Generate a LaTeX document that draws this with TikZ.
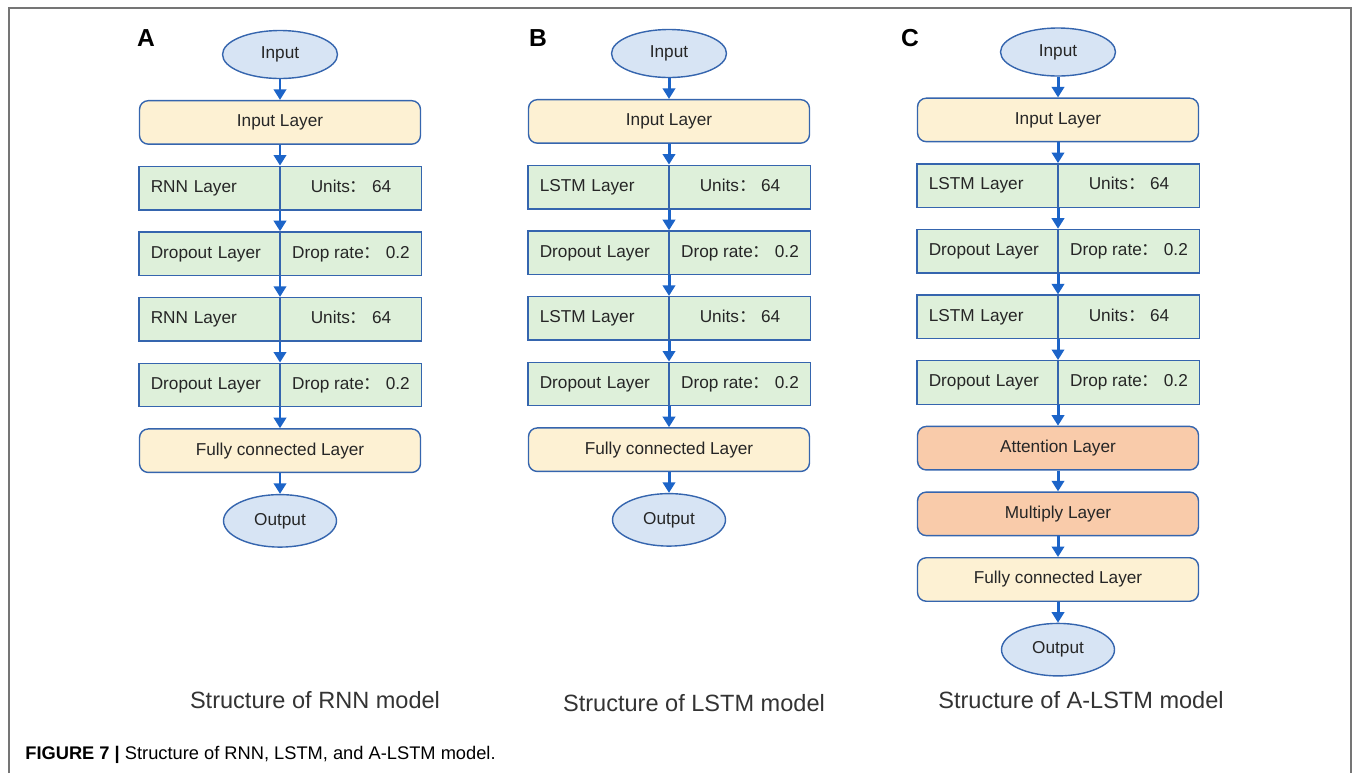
\documentclass[tikz,border=0pt]{standalone}
\usepackage{fontspec}
\setmainfont{Liberation Sans}
\newfontfamily\cjk{Noto Sans CJK SC}
\usepackage{tikz}
\usetikzlibrary{arrows.meta,positioning,shapes.geometric}

\definecolor{edgeblue}{HTML}{3565AE}
\definecolor{arrowblue}{HTML}{1C64C8}
\definecolor{ovalfill}{HTML}{D7E4F4}
\definecolor{yellowfill}{HTML}{FDF1D3}
\definecolor{greenfill}{HTML}{DEF0DA}
\definecolor{orangefill}{HTML}{F9CBAA}
\definecolor{framegray}{HTML}{757575}
\newcommand{\fwcolon}{{\cjk ：}}

\begin{document}
\begin{tikzpicture}[
    node distance=0.415cm,
    every node/.style={font=\fontsize{9.8}{12}\selectfont, text=black!85},
    oval/.style={ellipse, draw=edgeblue, fill=ovalfill, line width=0.8pt, minimum width=2.3cm, minimum height=0.96cm},
    layer/.style={rectangle, rounded corners=5pt, draw=edgeblue, fill=yellowfill, line width=0.8pt, minimum width=5.62cm, minimum height=0.87cm},
    attlayer/.style={layer, fill=orangefill},
    lefthalf/.style={rectangle, draw=edgeblue, fill=greenfill, line width=0.8pt, minimum height=0.87cm, text height=7pt, text depth=2pt, text width=2.33cm, align=left, inner xsep=0.24cm},
    righthalf/.style={rectangle, draw=edgeblue, fill=greenfill, line width=0.8pt, minimum height=0.87cm, text height=7pt, text depth=2pt, minimum width=2.81cm},
    flow/.style={-{Triangle[width=7pt,length=6pt]}, draw=arrowblue, line width=1.7pt},
    panel/.style={font=\bfseries\fontsize{14}{16}\selectfont, text=black},
    subtitle/.style={font=\fontsize{13.4}{16}\selectfont, text=black!80}
  ]
  \useasboundingbox (0,0) rectangle (27.14,-15.46);
  \draw[framegray, line width=1.2pt] (0.18,-15.46) -- (0.18,-0.16) -- (27.02,-0.16) -- (27.02,-15.46);

  % panel A
  \node[panel] (labA) at (2.92,-0.76) {A};
  \node[oval] (inA) at (5.6,-1.09) {Input};
  \node[layer, below=of inA] (ilA) {Input Layer};
  \node[lefthalf, below=of ilA.south, anchor=north east] (r1A) {RNN Layer};
  \node[righthalf, right=0pt of r1A] (r1uA) {Units\fwcolon{} 64};
  \node[lefthalf, below=of r1A] (d1A) {Dropout Layer};
  \node[righthalf, right=0pt of d1A] (d1uA) {Drop rate\fwcolon{} 0.2};
  \node[lefthalf, below=of d1A] (r2A) {RNN Layer};
  \node[righthalf, right=0pt of r2A] (r2uA) {Units\fwcolon{} 64};
  \node[lefthalf, below=of r2A] (d2A) {Dropout Layer};
  \node[righthalf, right=0pt of d2A] (d2uA) {Drop rate\fwcolon{} 0.2};
  \node[layer, below=of d2A.south east] (fcA) {Fully connected Layer};
  \node[oval, minimum width=2.26cm, minimum height=1.05cm, below=of fcA] (outA) {Output};
  \node[subtitle] (subA) at (6.3,-14.0) {Structure of RNN model};

  \draw[flow] (inA) -- (ilA);
  \draw[flow] (ilA.south) -- (r1A.north east);
  \draw[flow] (r1A.south east) -- (d1A.north east);
  \draw[flow] (d1A.south east) -- (r2A.north east);
  \draw[flow] (r2A.south east) -- (d2A.north east);
  \draw[flow] (d2A.south east) -- (fcA.north);
  \draw[flow] (fcA) -- (outA);

  % panel B
  \node[panel] (labB) at (10.76,-0.76) {B};
  \node[oval] (inB) at (13.38,-1.07) {Input};
  \node[layer, below=of inB] (ilB) {Input Layer};
  \node[lefthalf, below=of ilB.south, anchor=north east] (l1B) {LSTM Layer};
  \node[righthalf, right=0pt of l1B] (l1uB) {Units\fwcolon{} 64};
  \node[lefthalf, below=of l1B] (d1B) {Dropout Layer};
  \node[righthalf, right=0pt of d1B] (d1uB) {Drop rate\fwcolon{} 0.2};
  \node[lefthalf, below=of d1B] (l2B) {LSTM Layer};
  \node[righthalf, right=0pt of l2B] (l2uB) {Units\fwcolon{} 64};
  \node[lefthalf, below=of l2B] (d2B) {Dropout Layer};
  \node[righthalf, right=0pt of d2B] (d2uB) {Drop rate\fwcolon{} 0.2};
  \node[layer, below=of d2B.south east] (fcB) {Fully connected Layer};
  \node[oval, minimum width=2.26cm, minimum height=1.05cm, below=of fcB] (outB) {Output};
  \node[subtitle] (subB) at (13.88,-14.06) {Structure of LSTM model};

  \draw[flow] (inB) -- (ilB);
  \draw[flow] (ilB.south) -- (l1B.north east);
  \draw[flow] (l1B.south east) -- (d1B.north east);
  \draw[flow] (d1B.south east) -- (l2B.north east);
  \draw[flow] (l2B.south east) -- (d2B.north east);
  \draw[flow] (d2B.south east) -- (fcB.north);
  \draw[flow] (fcB) -- (outB);

  % panel C
  \node[panel] (labC) at (18.2,-0.76) {C};
  \node[oval] (inC) at (21.16,-1.04) {Input};
  \node[layer, below=of inC] (ilC) {Input Layer};
  \node[lefthalf, below=of ilC.south, anchor=north east] (l1C) {LSTM Layer};
  \node[righthalf, right=0pt of l1C] (l1uC) {Units\fwcolon{} 64};
  \node[lefthalf, below=of l1C] (d1C) {Dropout Layer};
  \node[righthalf, right=0pt of d1C] (d1uC) {Drop rate\fwcolon{} 0.2};
  \node[lefthalf, below=of d1C] (l2C) {LSTM Layer};
  \node[righthalf, right=0pt of l2C] (l2uC) {Units\fwcolon{} 64};
  \node[lefthalf, below=of l2C] (d2C) {Dropout Layer};
  \node[righthalf, right=0pt of d2C] (d2uC) {Drop rate\fwcolon{} 0.2};
  \node[attlayer, below=of d2C.south east] (attC) {Attention Layer};
  \node[attlayer, below=of attC] (mulC) {Multiply Layer};
  \node[layer, below=of mulC] (fcC) {Fully connected Layer};
  \node[oval, minimum width=2.26cm, minimum height=1.05cm, below=of fcC] (outC) {Output};
  \node[subtitle] (subC) at (21.62,-14.0) {Structure of A-LSTM model};

  \draw[flow] (inC) -- (ilC);
  \draw[flow] (ilC.south) -- (l1C.north east);
  \draw[flow] (l1C.south east) -- (d1C.north east);
  \draw[flow] (d1C.south east) -- (l2C.north east);
  \draw[flow] (l2C.south east) -- (d2C.north east);
  \draw[flow] (d2C.south east) -- (attC.north);
  \draw[flow] (attC) -- (mulC);
  \draw[flow] (mulC) -- (fcC);
  \draw[flow] (fcC) -- (outC);

  \node[anchor=west, inner sep=0pt, font=\fontsize{10.4}{12}\selectfont, text=black] (fig) at (0.5,-15.1) {\textbf{FIGURE 7 |} Structure of RNN, LSTM, and A-LSTM model.};
\end{tikzpicture}
\end{document}
